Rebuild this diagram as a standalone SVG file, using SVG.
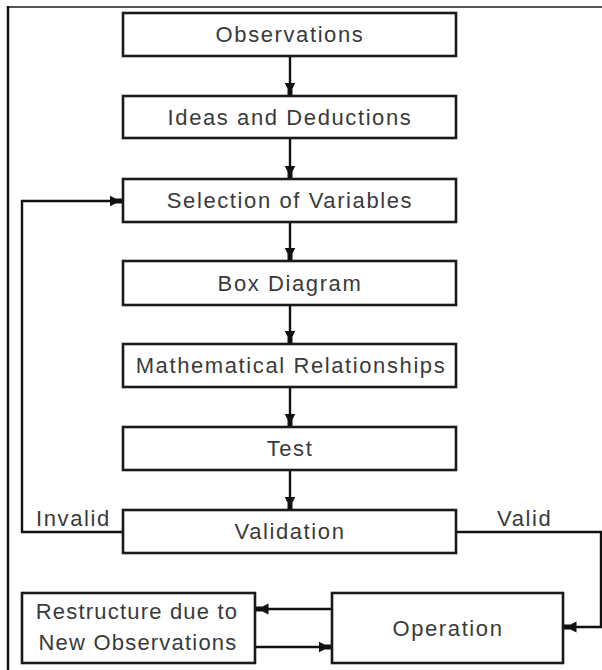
<svg xmlns="http://www.w3.org/2000/svg" width="602" height="670" viewBox="0 0 602 670">
<defs>
<style>
.box{fill:#fff;stroke:#1a1a1a;stroke-width:2.6}
.t{font-family:"Liberation Sans",Arial,sans-serif;font-size:22px;letter-spacing:1.6px;fill:#3a3a3a;text-anchor:middle}
.t2{font-family:"Liberation Sans",Arial,sans-serif;font-size:22px;letter-spacing:1.2px;fill:#3a3a3a;text-anchor:middle}
.lbl{font-family:"Liberation Sans",Arial,sans-serif;font-size:22px;letter-spacing:1.6px;fill:#3a3a3a}
.c{fill:none;stroke:#111;stroke-width:2.4}
</style>
<marker id="ah" markerUnits="userSpaceOnUse" markerWidth="14" markerHeight="12" viewBox="0 0 14 12" refX="13.5" refY="6" orient="auto">
<path d="M0,0.5 L6,3.5 L14,3.5 L14,8.5 L6,8.5 L0,11.5 Z" fill="#111"/>
</marker>
</defs>
<rect width="602" height="670" fill="#fff"/>
<g id="frame">
<line x1="8" y1="7" x2="602" y2="7" stroke="#555" stroke-width="2"/>
<line x1="8" y1="6" x2="8" y2="670" stroke="#111" stroke-width="2.5"/>
</g>
<g id="connectors">
<line class="c" x1="290" y1="56" x2="290" y2="96" marker-end="url(#ah)"/>
<line class="c" x1="290" y1="138" x2="290" y2="179" marker-end="url(#ah)"/>
<line class="c" x1="290" y1="222" x2="290" y2="261" marker-end="url(#ah)"/>
<line class="c" x1="290" y1="305" x2="290" y2="344" marker-end="url(#ah)"/>
<line class="c" x1="290" y1="387" x2="290" y2="427" marker-end="url(#ah)"/>
<line class="c" x1="290" y1="470" x2="290" y2="510" marker-end="url(#ah)"/>
<polyline class="c" points="123,532 22,532 22,201 123,201" marker-end="url(#ah)"/>
<polyline class="c" points="456,532 601,532 601,627 563,627" marker-end="url(#ah)"/>
<line class="c" x1="332" y1="609" x2="255" y2="609" marker-end="url(#ah)"/>
<line class="c" x1="255" y1="647" x2="332" y2="647" marker-end="url(#ah)"/>
</g>
<g id="observations">
<rect class="box" x="123" y="13" width="333" height="43"/>
<text class="t" x="290" y="42">Observations</text>
</g>
<g id="ideas">
<rect class="box" x="123" y="96" width="333" height="42"/>
<text class="t" x="290" y="125">Ideas and Deductions</text>
</g>
<g id="selection">
<rect class="box" x="123" y="179" width="333" height="43"/>
<text class="t" x="290" y="208">Selection of Variables</text>
</g>
<g id="boxdiagram">
<rect class="box" x="123" y="261" width="333" height="44"/>
<text class="t" x="290" y="291">Box Diagram</text>
</g>
<g id="math">
<rect class="box" x="123" y="344" width="333" height="43"/>
<text class="t" x="291" y="373">Mathematical Relationships</text>
</g>
<g id="test">
<rect class="box" x="123" y="427" width="333" height="43"/>
<text class="t" x="290" y="456">Test</text>
</g>
<g id="validation">
<rect class="box" x="123" y="510" width="333" height="43"/>
<text class="t" x="290" y="539">Validation</text>
</g>
<g id="labels">
<text class="lbl" x="36" y="526">Invalid</text>
<text class="lbl" x="497" y="526">Valid</text>
</g>
<g id="restructure">
<rect class="box" x="22" y="593" width="233" height="70"/>
<text class="t2" x="137" y="619">Restructure due to</text>
<text class="t2" x="138" y="650">New Observations</text>
</g>
<g id="operation">
<rect class="box" x="332" y="593" width="231" height="70"/>
<text class="t" x="448" y="636">Operation</text>
</g>
</svg>
